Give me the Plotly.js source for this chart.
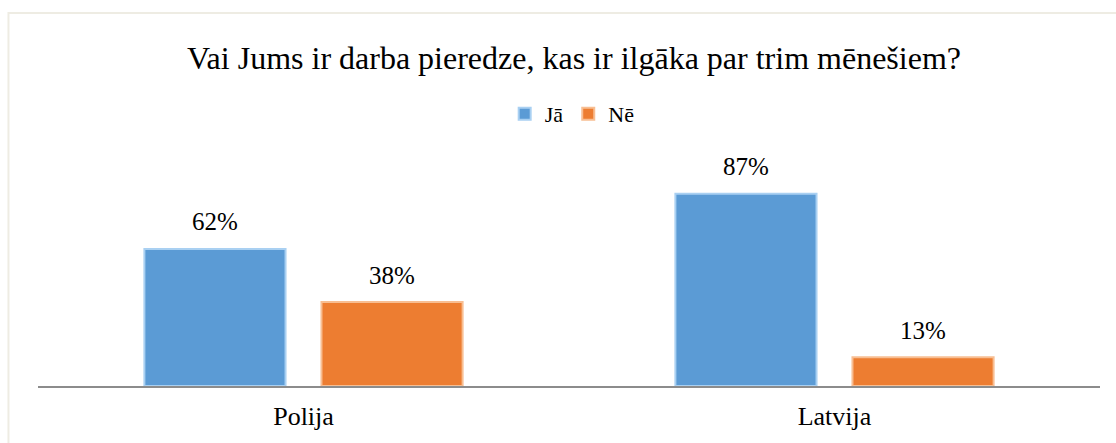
<!DOCTYPE html>
<html>
<head>
<meta charset="utf-8">
<script src="https://cdn.plot.ly/plotly-3.0.1.min.js"></script>
<style>html,body{margin:0;padding:0;background:#fff;}#chart{width:1116px;height:443px;}</style>
</head>
<body>
<div id="chart"></div>
<script>
const categories = ["Polija", "Latvija"];
const seriesNames = ["Jā", "Nē"];
const valuesJa = [62, 87];
const valuesNe = [38, 13];
const labelsJa = ["62%", "87%"];
const labelsNe = ["38%", "13%"];

const FONT = "Liberation Serif";
const colors = ["#5B9BD5", "#ED7D31"];
const edge = ["#A9D0F2", "#F8BE92"];

const traces = [
  {type: "bar", name: seriesNames[0], x: categories, y: valuesJa,
   marker: {color: colors[0], line: {color: edge[0], width: 2}}, hoverinfo: "none"},
  {type: "bar", name: seriesNames[1], x: categories, y: valuesNe,
   marker: {color: colors[1], line: {color: edge[1], width: 2}}, hoverinfo: "none"}
];

const offsets = [-0.1667, 0.1667];
const annotations = [];
[[valuesJa, labelsJa], [valuesNe, labelsNe]].forEach(([vals, labs], s) => {
  vals.forEach((v, i) => {
    annotations.push({
      x: i + offsets[s], xref: "x", y: v, yref: "y",
      text: labs[i], showarrow: false, yanchor: "middle", yshift: 27,
      font: {family: FONT, size: 25, color: "#000"}
    });
  });
});

const layout = {
  width: 1116, height: 443,
  margin: {l: 38, r: 16, t: 165, b: 57, pad: 0},
  paper_bgcolor: "#fff", plot_bgcolor: "#fff",
  font: {family: FONT, color: "#000"},
  title: {text: "Vai Jums ir darba pieredze, kas ir ilgāka par trim mēnešiem?",
          font: {family: FONT, size: 32, color: "#000"},
          x: 574/1116, xanchor: "center", xref: "container",
          y: 1 - 58/443, yanchor: "middle", yref: "container"},
  barmode: "group", bargap: 0.333, bargroupgap: 0.203,
  showlegend: true,
  legend: {orientation: "h", x: 0.503, xanchor: "center", y: 1.231, yanchor: "middle",
           font: {family: FONT, size: 22, color: "#000"}, itemwidth: 30, traceorder: "normal"},
  xaxis: {type: "category", showline: true, linecolor: "#8C8C8C", linewidth: 1.5,
          ticks: "", showgrid: false, zeroline: false, ticklabelstandoff: 6,
          tickfont: {family: FONT, size: 26, color: "#000"}, fixedrange: true},
  yaxis: {range: [0, 100], visible: false, showgrid: false, zeroline: false, fixedrange: true},
  annotations: annotations,
  shapes: [
    {type: "rect", xref: "paper", yref: "paper", x0: -0.0278, x1: 1.1, y0: -0.6, y1: 1.688,
     line: {color: "#EEECE3", width: 2}, fillcolor: "rgba(0,0,0,0)", layer: "below"}
  ]
};

Plotly.newPlot("chart", traces, layout, {displayModeBar: false, staticPlot: true});
</script>
</body>
</html>
